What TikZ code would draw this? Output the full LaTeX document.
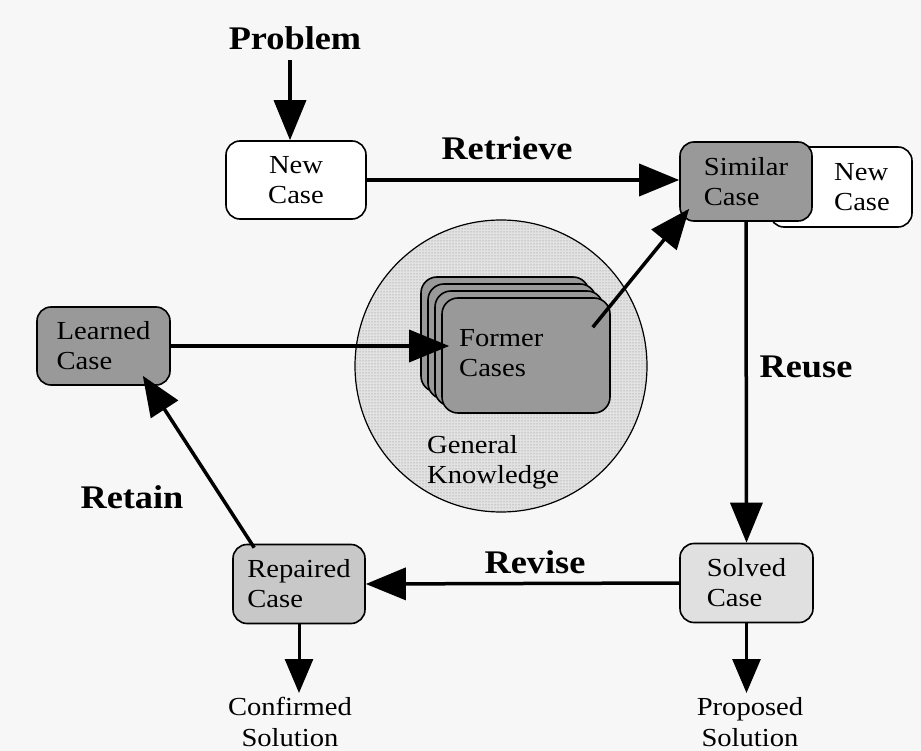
\documentclass[tikz,border=0pt]{standalone}
\usepackage{fontspec}
\setmainfont{Liberation Serif}[FakeStretch=1.1]
\usetikzlibrary{arrows.meta,calc,patterns}

\definecolor{bg}{HTML}{F7F7F7}
\definecolor{darkcase}{HTML}{999999}
\definecolor{midcase}{HTML}{C8C8C8}
\definecolor{lightcase}{HTML}{E0E0E0}
\definecolor{knowfill}{HTML}{E2E2E2}
\definecolor{knowdots}{HTML}{808080}

\begin{document}
\begin{tikzpicture}[x=1pt,y=-1pt,
  casebox/.style={draw=black, line width=1.6pt, rounded corners=14pt, align=left,
    inner sep=0pt, font=\fontsize{26}{30}\selectfont},
  stackbox/.style={draw=black, line width=1.6pt, rounded corners=16pt, fill=darkcase,
    minimum width=168pt, minimum height=115pt, inner sep=0pt},
  phase/.style={font=\bfseries\fontsize{33}{36}\selectfont},
  plain/.style={align=left, inner sep=0pt, font=\fontsize{26}{30}\selectfont},
  outtext/.style={align=center, inner sep=0pt, font=\fontsize{26}{31}\selectfont},
  flow/.style={line width=3.5pt, -{Triangle[length=40pt,width=32pt]}},
  outflow/.style={line width=3pt, -{Triangle[length=34pt,width=28pt]}}]

% page and background
\fill[bg] (0,0) rectangle (921,751);
\useasboundingbox (0,0) rectangle (921,751);

% general knowledge with the stack of former cases
\node[circle, draw=black, line width=1.2pt, minimum size=292pt, inner sep=0pt,
  preaction={fill=knowfill}, pattern=dots, pattern color=knowdots] (knowledge) at (501,366) {};
\node[plain, anchor=west] (gk) at (427,462) {General\\Knowledge};

\node[stackbox] (f3) at (505,334.5) {};
\node[stackbox] (f2) at (512,341.5) {};
\node[stackbox] (f1) at (519,348.5) {};
\node[stackbox] (former) at (526,355.5) {};
\node[plain, anchor=west] (formertext) at (459,353) {Former\\Cases};

% the cases
\node[casebox, fill=white, minimum width=140pt, minimum height=78pt, align=center] (newcase) at (296,180) {New\\Case};
\node[casebox, fill=white, minimum width=142pt, minimum height=80pt] (newcase2) at (841,187) {\hspace*{42pt}New\\\hspace*{42pt}Case};
\node[casebox, fill=darkcase, minimum width=132pt, minimum height=79pt] (similar) at (746,181.5) {Similar\\Case};
\node[casebox, fill=darkcase, minimum width=133pt, minimum height=78pt] (learned) at (103.5,346) {Learned\\Case};
\node[casebox, fill=lightcase, minimum width=133pt, minimum height=79pt] (solved) at (746.5,583) {Solved\\Case};
\node[casebox, fill=midcase, minimum width=132pt, minimum height=79pt] (repaired) at (299,584) {Repaired\\Case};

% labels
\node[phase] (problem) at (295,38) {Problem};
\node[phase] (retrieve) at (507,148) {Retrieve};
\node[phase] (reuse) at (806,367) {Reuse};
\node[phase] (revise) at (535,562) {Revise};
\node[phase] (retain) at (132,497) {Retain};

\node[outtext, anchor=north] (proposed) at (750,697) {Proposed\\Solution};
\node[outtext, anchor=north] (confirmed) at (290,697) {Confirmed\\Solution};

% the cycle
\draw[flow] ($(problem.south)+(-5,7)$) -- ($(newcase.north)+(-6,0)$);
\draw[flow] (newcase.east) -- (newcase.east -| similar.west);
\draw[flow] ($(former.north east)+(-18,30)$) -- ($(similar.south west)+(10,-13)$);
\draw[flow] (similar.south) -- (solved.north);
\draw[flow] (solved.west) -- (repaired.east);
\draw[flow] ($(repaired.north west)+(22,4)$) -- ($(learned.south east)+(-28,-10)$);
\draw[flow] (learned.east) -- ($(learned.east -| former.west)+(8,0)$);
\draw[outflow] (solved.south) -- ($(solved.south |- proposed.north)+(0,-4)$);
\draw[outflow] (repaired.south) -- ($(repaired.south |- confirmed.north)+(0,-4)$);
\end{tikzpicture}
\end{document}
